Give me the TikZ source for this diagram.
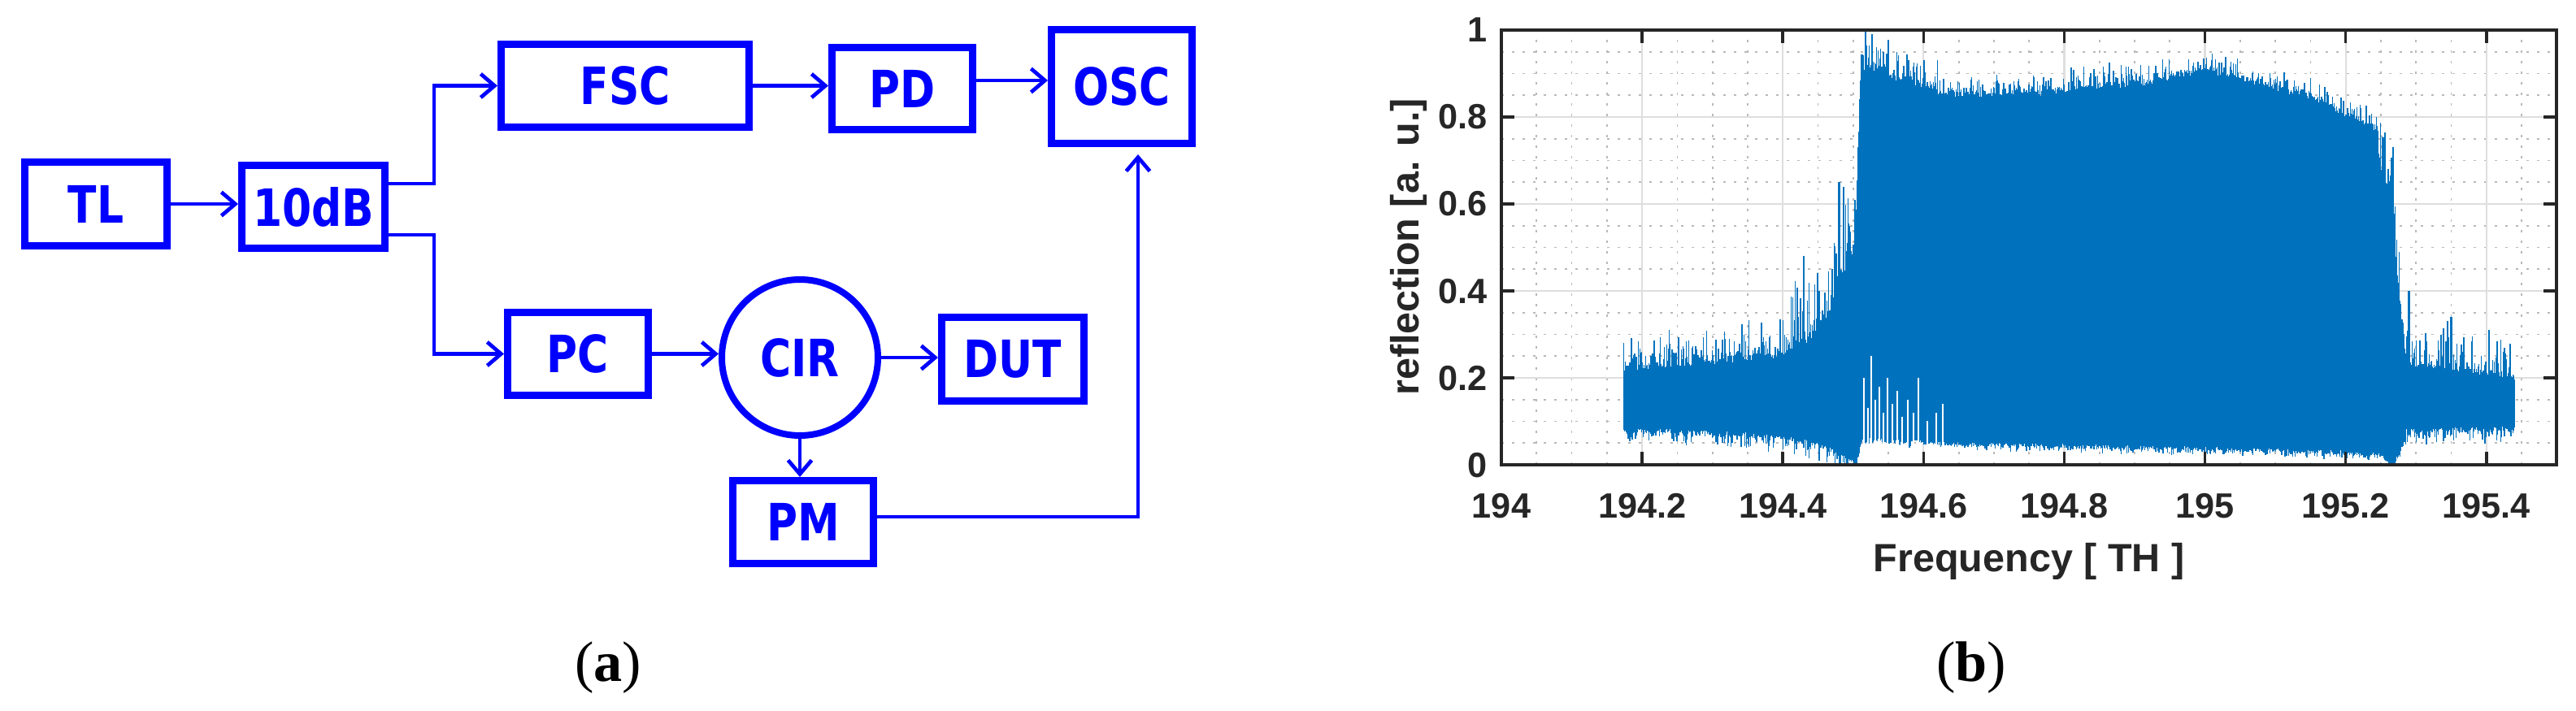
\documentclass[tikz,border=0pt]{standalone}
\usepackage{fontspec}
\usetikzlibrary{arrows.meta,calc}
\newfontfamily\boxfont[FakeStretch=0.82]{DejaVu Sans}
\newfontfamily\plotfont{Liberation Sans}
\newfontfamily\capfont{Liberation Serif}
\definecolor{dblue}{RGB}{0,0,255}
\definecolor{mblue}{RGB}{0,114,189}
\definecolor{axgray}{RGB}{38,38,38}
\definecolor{majgrid}{RGB}{222,222,222}
\definecolor{mingrid}{RGB}{185,185,185}
\tikzset{
  blk/.style={draw=dblue, line width=0.09cm, minimum height=1.02cm, minimum width=1.73cm, text=dblue, inner sep=0pt, font=\boxfont\bfseries\fontsize{18}{20}\selectfont},
  cirblk/.style={circle, draw=dblue, line width=0.08cm, minimum size=1.92cm, text=dblue, inner sep=0pt, font=\boxfont\bfseries\fontsize{18}{20}\selectfont},
  conn/.style={draw=dblue, line width=0.047cm},
  arr/.style={conn, -{Straight Barb[length=0.17cm,width=0.29cm]}},
  mingridline/.style={draw=mingrid, line width=0.018cm, dash pattern=on 0.03cm off 0.1cm},
  majgridline/.style={draw=majgrid, line width=0.022cm},
  dataline/.style={draw=mblue, line width=0.4pt},
  stripe/.style={draw=white, line width=0.018cm},
  axisline/.style={draw=axgray, line width=0.036cm},
  ticklab/.style={text=axgray, inner sep=0pt, font=\plotfont\bfseries\fontsize{12.3}{14}\selectfont},
  axlab/.style={text=axgray, inner sep=0pt, font=\plotfont\bfseries\fontsize{13.8}{16}\selectfont},
  caption/.style={inner sep=0pt, font=\capfont\fontsize{20}{24}\selectfont}
}
\begin{document}
\begin{tikzpicture}
\useasboundingbox (0,0) rectangle (31.69,8.74);

% ---------------- (a) block diagram ----------------
\node[blk, minimum width=1.75cm] (TL) at (1.18,6.23) {TL};
\node[blk, minimum width=1.76cm] (split) at (3.855,6.195) {10dB};
\node[blk, minimum width=3.05cm] (FSC) at (7.69,7.685) {FSC};
\node[blk, minimum height=1.01cm] (PD) at (11.10,7.65) {PD};
\node[blk, minimum height=1.40cm] (OSC) at (13.80,7.675) {OSC};
\node[blk] (PC) at (7.11,4.385) {PC};
\node[cirblk] (CIR) at (9.84,4.34) {CIR};
\node[blk, minimum width=1.75cm] (DUT) at (12.46,4.32) {DUT};
\node[blk] (PM) at (9.88,2.315) {PM};

\coordinate (jt) at (5.34,6.48);
\coordinate (jb) at (5.34,5.85);
\coordinate (pdo) at ([yshift=0.1cm]PD.east);
\coordinate (turn) at (14.00,2.38);

\draw[arr] (TL.east) -- (TL.east -| split.west);
\draw[arr] (split.east |- jt) -- (jt) |- (FSC.west);
\draw[arr] (split.east |- jb) -- (jb) |- (PC.west);
\draw[arr] (FSC.east) -- (FSC.east -| PD.west);
\draw[arr] (pdo) -- (pdo -| OSC.west);
\draw[arr] (PC.east) -- (PC.east -| CIR.west);
\draw[arr] (CIR.east) -- (CIR.east -| DUT.west);
\draw[arr] (CIR.south) -- (CIR.south |- PM.north);
\draw[arr, shorten >=0.09cm] (PM.east |- turn) -- (turn) -- (turn |- OSC.south);

\node[caption] (capa) at (7.48,0.52) {(\textbf{a})};

% ---------------- (b) plot ----------------
\begin{scope}[shift={(18.47,3.02)}, x=8.655cm, y=5.35cm]
  % minor grid
  \foreach \i in {1,...,29}{
    \pgfmathtruncatemacro\mm{mod(\i,4)}
    \ifnum\mm=0\relax\else
      \draw[mingridline] (\i*0.05,0) -- (\i*0.05,1);
    \fi
  }
  \foreach \j in {1,...,19}{
    \pgfmathtruncatemacro\mm{mod(\j,4)}
    \ifnum\mm=0\relax\else
      \draw[mingridline] (0,\j*0.05) -- (1.5,\j*0.05);
    \fi
  }
  % major grid
  \foreach \i in {0.2,0.4,...,1.41}{
    \draw[majgridline] (\i,0) -- (\i,1);
  }
  \foreach \j in {0.2,0.4,0.6,0.8}{
    \draw[majgridline] (0,\j) -- (1.5,\j);
  }
  % data
  \pgfmathsetseed{7}
  \foreach \fa/\fb/\ta/\tb/\tA/\ba/\bb/\bA in {
    0.174/0.30/0.23/0.245/0.08/0.075/0.07/0.03,
    0.30/0.40/0.245/0.26/0.09/0.07/0.06/0.035,
    0.40/0.46/0.26/0.32/0.16/0.06/0.04/0.04,
    0.46/0.505/0.34/0.52/0.16/0.04/0.0/0.04,
    0.505/0.512/0.6/0.95/0.04/0.0/0.05/0.0,
    0.512/0.55/0.92/0.92/0.08/0.055/0.05/0.01,
    0.55/0.62/0.90/0.875/0.06/0.05/0.045/0.01,
    0.62/0.75/0.86/0.86/0.045/0.045/0.04/0.012,
    0.75/0.93/0.86/0.89/0.05/0.04/0.034/0.012,
    0.93/0.99/0.89/0.915/0.045/0.034/0.032/0.014,
    0.99/1.05/0.915/0.895/0.045/0.032/0.03/0.012,
    1.05/1.15/0.895/0.855/0.045/0.03/0.026/0.014,
    1.15/1.245/0.85/0.78/0.045/0.026/0.02/0.014,
    1.245/1.27/0.72/0.58/0.12/0.02/0.0/0.02,
    1.27/1.285/0.5/0.26/0.1/0.0/0.06/0.02,
    1.285/1.44/0.24/0.21/0.09/0.075/0.08/0.035}{
    \pgfmathtruncatemacro\nst{max(1,round((\fb-\fa)/0.0012))}
    \foreach \k in {0,...,\nst}{
      \pgfmathsetmacro\tpos{\k/\nst}
      \pgfmathsetmacro\xx{\fa+(\fb-\fa)*\tpos}
      \pgfmathsetmacro\yt{min(1,\ta+(\tb-\ta)*\tpos+\tA*rnd^3-0.015*rnd)}
      \pgfmathsetmacro\yb{max(0,\ba+(\bb-\ba)*\tpos-\bA*rnd^3+0.01*rnd)}
      \draw[dataline] (\xx,\yb) -- (\xx,\yt);
    }
  }
  % distinct spikes
  \foreach \xx/\yt/\yb in {0.43/0.48/0.1, 0.452/0.40/0.1, 0.47/0.45/0.1, 0.48/0.65/0.05,
      0.486/0.64/0.05, 0.495/0.55/0.02, 0.503/0.61/0.02, 0.518/1.0/0.05, 0.527/0.99/0.05,
      1.254/0.75/0.02, 1.267/0.73/0.02, 1.29/0.40/0.07, 1.345/0.33/0.07, 1.35/0.34/0.07,
      1.404/0.31/0.07, 1.415/0.285/0.07}{
    \draw[dataline, line width=0.6pt] (\xx,\yb) -- (\xx,\yt);
  }
  % white gaps in the low part after the edge
  \foreach \xx/\yt in {0.515/0.2, 0.521/0.13, 0.526/0.25, 0.531/0.15, 0.537/0.18, 0.543/0.12,
      0.549/0.2, 0.556/0.14, 0.563/0.17, 0.57/0.11, 0.578/0.15, 0.586/0.12, 0.593/0.2,
      0.605/0.1, 0.618/0.12, 0.627/0.14}{
    \draw[stripe] (\xx,0.04) -- (\xx,\yt);
  }
  % axes box and ticks
  \draw[axisline] (0,0) rectangle (1.5,1);
  \foreach \i in {0.2,0.4,...,1.41}{
    \draw[axisline] (\i,0) -- ++(0,0.16cm);
    \draw[axisline] (\i,1) -- ++(0,-0.16cm);
  }
  \foreach \j in {0.2,0.4,0.6,0.8}{
    \draw[axisline] (0,\j) -- ++(0.16cm,0);
    \draw[axisline] (1.5,\j) -- ++(-0.16cm,0);
  }
  % tick labels
  \foreach \xv/\lab in {0/194, 0.2/194.2, 0.4/194.4, 0.6/194.6, 0.8/194.8, 1.0/195, 1.2/195.2, 1.4/195.4}{
    \node[ticklab, anchor=base] (xt\lab) at ([yshift=-0.65cm]\xv,0) {\lab};
  }
  \foreach \yv/\lab in {0/0, 0.2/0.2, 0.4/0.4, 0.6/0.6, 0.8/0.8, 1/1}{
    \node[ticklab, anchor=base east] (yt\lab) at ([xshift=-0.17cm,yshift=-0.15cm]0,\yv) {\lab};
  }
\end{scope}
\node[axlab, anchor=base] (xlab) at (24.96,1.71) {Frequency [ TH ]};
\node[axlab, anchor=base, rotate=90] (ylab) at (17.45,5.70) {reflection [a. u.]};
\node[caption] (capb) at (24.25,0.52) {(\textbf{b})};
\end{tikzpicture}
\end{document}
